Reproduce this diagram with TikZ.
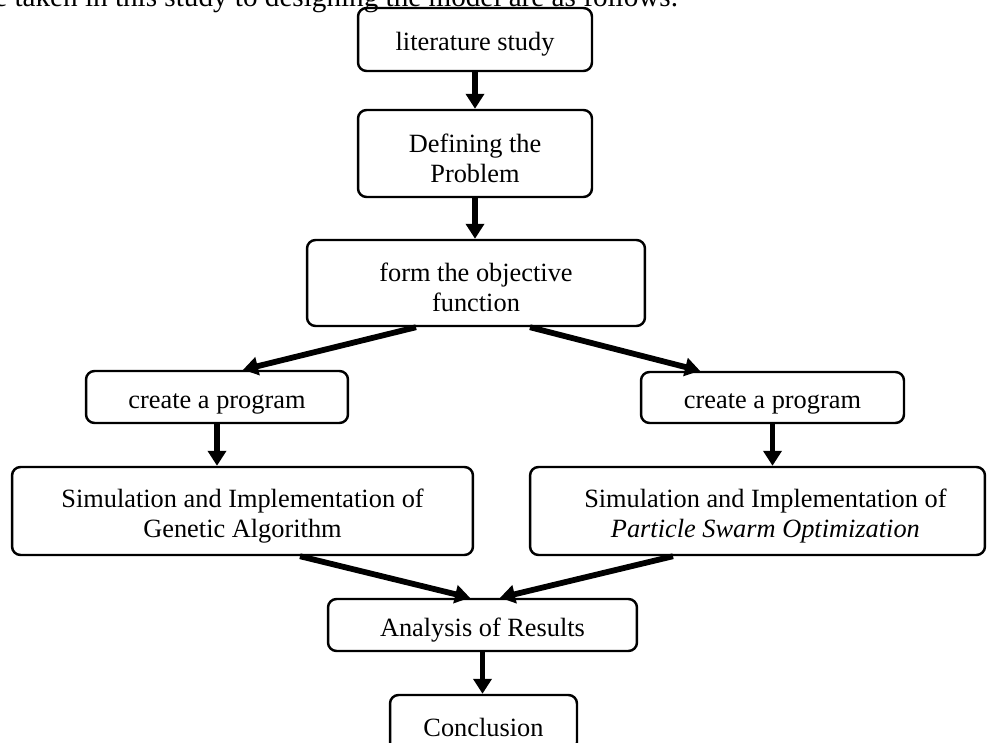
\documentclass[tikz,border=0pt]{standalone}
\usepackage{fontspec}
\setmainfont{Liberation Serif}
\usetikzlibrary{arrows.meta,calc}
\newcommand\tstrut{\rule{0pt}{16pt}}
\tikzset{
  box/.style={draw, line width=1.4pt, rounded corners=0.17cm, align=center,
    inner sep=0pt, font=\fontsize{15}{17}\selectfont},
  flow/.style={line width=3.3pt,
    -{Triangle[length=0.3cm,width=0.36cm]}},
}
\begin{document}
\begin{tikzpicture}[x=0.02cm,y=-0.02cm]
\useasboundingbox (0,0) rectangle (987,743);
\node[anchor=base west, inner sep=0pt, font=\fontsize{16.6}{18}\selectfont] (intro) at (-6,7)
  {e taken in this study to designing the model are as follows.};
\node[box, minimum width=4.68cm, minimum height=1.26cm] (lit) at (475,39.5) {\tstrut literature study};
\node[box, minimum width=4.68cm, minimum height=1.74cm] (def) at (475,153.5) {\tstrut Defining the\\Problem};
\node[box, minimum width=6.76cm, minimum height=1.72cm] (obj) at (476,283) {\tstrut form the objective\\function};
\node[box, minimum width=5.24cm, minimum height=1.04cm] (cpl) at (217,397) {\tstrut create a program};
\node[box, minimum width=5.26cm, minimum height=1.02cm] (cpr) at (772.5,397.5) {\tstrut create a program};
\node[box, minimum width=9.22cm, minimum height=1.76cm] (ga) at (242.5,511) {\tstrut Simulation and Implementation of\\Genetic Algorithm};
\node[box, minimum width=9.10cm, minimum height=1.76cm] (pso) at (757.5,511) {\tstrut\hspace{9pt}Simulation and Implementation of\\\hspace{9pt}\textit{Particle Swarm Optimization}};
\node[box, minimum width=6.18cm, minimum height=1.04cm] (ana) at (482.5,625) {\tstrut Analysis of Results};
\node[box, minimum width=3.74cm, minimum height=1.12cm] (con) at (483.5,723) {\tstrut Conclusion};
\draw[flow] (lit.south) -- (def.north);
\draw[flow] (def.south) -- (def.south |- obj.north);
\draw[flow] ($(obj.south)+(-60,0)$) -- ($(cpl.north)+(26,0)$);
\draw[flow] ($(obj.south)+(54,0)$) -- ($(cpr.north)+(-72.5,0)$);
\draw[flow] (cpl.south) -- (cpl.south |- ga.north);
\draw[flow] (cpr.south) -- (cpr.south |- pso.north);
\draw[flow] ($(ga.south)+(57.5,0)$) -- ($(ana.north)+(-12.5,0)$);
\draw[flow] ($(pso.south)+(-84.5,0)$) -- ($(ana.north)+(17.5,0)$);
\draw[flow] (ana.south) -- (ana.south |- con.north);
\end{tikzpicture}
\end{document}
